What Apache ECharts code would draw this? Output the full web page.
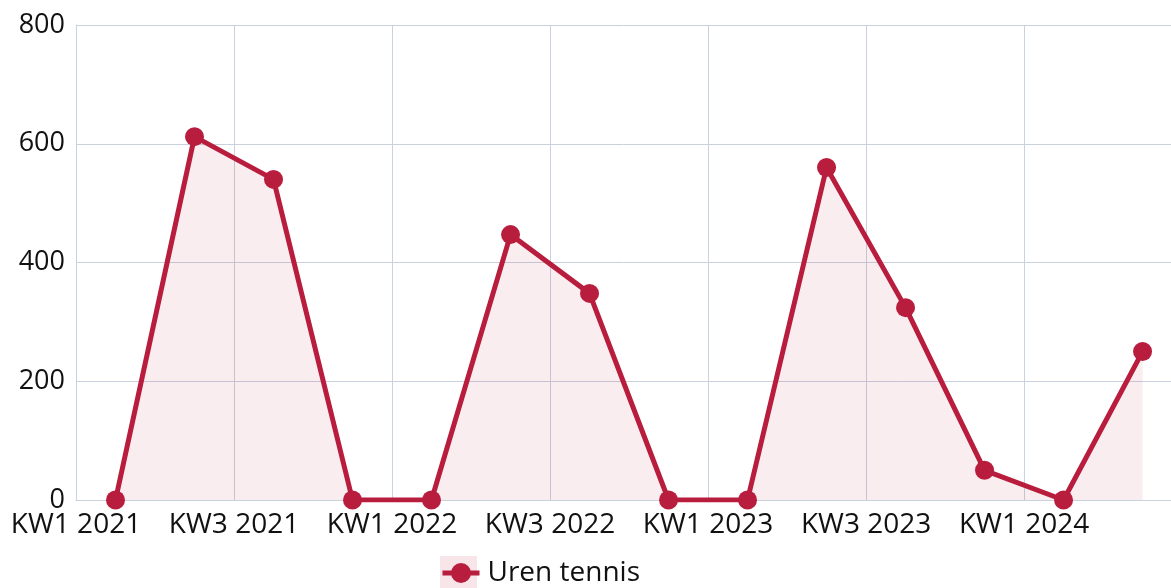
<!DOCTYPE html>
<html>
<head>
<meta charset="utf-8">
<script src="https://cdn.jsdelivr.net/npm/echarts@6/dist/echarts.min.js"></script>
<style>
  html, body { margin: 0; padding: 0; background: #fff; }
  #chart { width: 1171px; height: 588px; }
</style>
</head>
<body>
<div id="chart"></div>
<script>
// Quarterly hours of tennis
const categories = [
  'KW1 2021', 'KW2 2021', 'KW3 2021', 'KW4 2021',
  'KW1 2022', 'KW2 2022', 'KW3 2022', 'KW4 2022',
  'KW1 2023', 'KW2 2023', 'KW3 2023', 'KW4 2023',
  'KW1 2024', 'KW2 2024'
];
const urenTennis = [0, 612, 540, 0, 0, 447, 348, 0, 0, 560, 324, 50, 0, 250];
const yTicks = [0, 200, 400, 600, 800];
const seriesName = 'Uren tennis';

const lineColor = '#b81d3e';
const gridColor = '#c9d1dc';
const fontFamily = '"Open Sans", "Noto Sans", sans-serif';

// Each quarter sits in the middle of its slot on a numeric x scale;
// the visible range ends a little before the last slot closes.
const points = urenTennis.map((v, i) => [i + 0.5, v]);
const xVisibleMax = categories.length - 0.14;

const chart = echarts.init(document.getElementById('chart'));
chart.setOption({
  animation: false,
  grid: { left: 76, right: 0, top: 25, bottom: 88, containLabel: false },
  xAxis: {
    type: 'value',
    min: 0,
    max: xVisibleMax,
    interval: 2,
    axisLine: { show: true, lineStyle: { color: gridColor, width: 1 } },
    axisTick: { show: false },
    splitLine: { show: true, lineStyle: { color: gridColor, width: 1 } },
    axisLabel: {
      color: '#111',
      fontFamily: fontFamily,
      fontSize: 28,
      margin: 11,
      showMaxLabel: false,
      formatter: v => categories[v] || ''
    }
  },
  yAxis: {
    type: 'value',
    min: yTicks[0],
    max: yTicks[yTicks.length - 1],
    interval: yTicks[1] - yTicks[0],
    axisLine: { show: true, lineStyle: { color: gridColor, width: 1 } },
    axisTick: { show: false },
    splitLine: { show: true, lineStyle: { color: gridColor, width: 1 } },
    axisLabel: {
      color: '#111',
      fontFamily: fontFamily,
      fontSize: 27,
      margin: 11
    }
  },
  legend: {
    left: 440,
    top: 559,
    padding: 0,
    itemWidth: 37,
    itemHeight: 25,
    itemGap: 10,
    lineStyle: { width: 5 },
    textStyle: { color: '#111', fontFamily: fontFamily, fontSize: 28, padding: [0, 0, 0, 3] },
    data: [seriesName]
  },
  graphic: [{
    type: 'rect',
    left: 440,
    top: 556,
    z: -1,
    shape: { width: 37, height: 32 },
    style: { fill: '#f7e5ea' }
  }],
  series: [{
    name: seriesName,
    type: 'line',
    data: points,
    symbol: 'circle',
    symbolSize: 19,
    showSymbol: true,
    lineStyle: { color: lineColor, width: 5 },
    itemStyle: { color: lineColor },
    areaStyle: { color: 'rgba(184, 29, 62, 0.11)', origin: 'start' }
  }]
});
</script>
</body>
</html>
